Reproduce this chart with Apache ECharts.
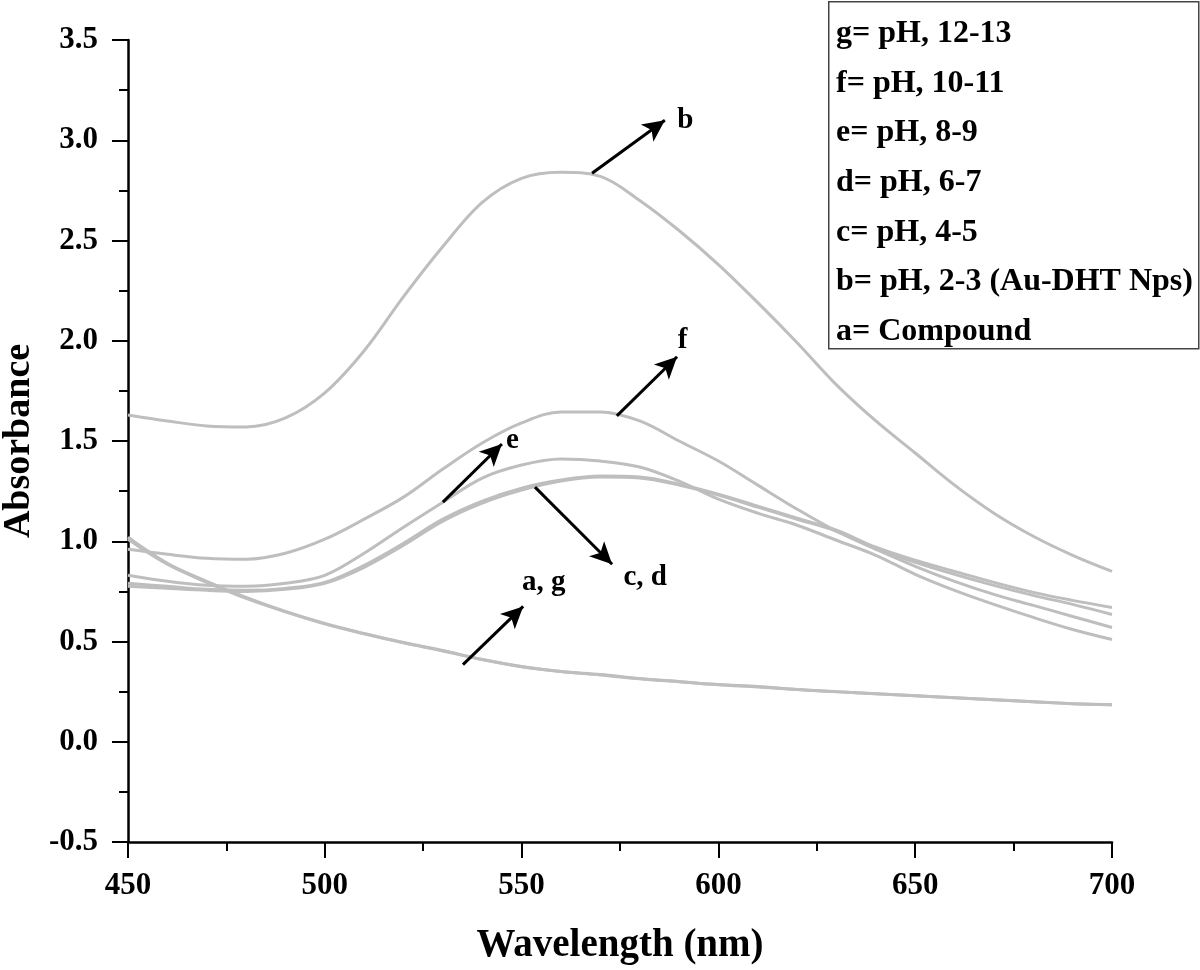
<!DOCTYPE html>
<html>
<head>
<meta charset="utf-8">
<script src="https://cdn.jsdelivr.net/npm/echarts@6/dist/echarts.min.js"></script>
<style>
html,body{margin:0;padding:0;background:#fff;}
#chart{width:1200px;height:970px;}
</style>
</head>
<body>
<div id="chart"></div>
<script>
// ---- data ----
const wavelengths = [450,460,470,480,490,500,510,520,530,540,550,560,570,580,590,600,610,620,630,640,650,660,670,680,690,700];
const curveA = [1.02,0.89,0.80,0.72,0.65,0.59,0.54,0.495,0.455,0.41,0.375,0.35,0.335,0.315,0.30,0.285,0.275,0.26,0.25,0.24,0.23,0.22,0.21,0.20,0.19,0.185];
const curveG = [1.01,0.885,0.795,0.715,0.648,0.588,0.538,0.493,0.453,0.41,0.374,0.35,0.333,0.314,0.299,0.284,0.273,0.26,0.249,0.239,0.229,0.219,0.209,0.199,0.19,0.184];
const curveB = [1.63,1.60,1.575,1.57,1.615,1.74,1.95,2.22,2.47,2.69,2.81,2.84,2.82,2.70,2.55,2.38,2.19,1.99,1.78,1.60,1.44,1.28,1.14,1.025,0.93,0.85];
const curveC = [0.79,0.775,0.76,0.755,0.765,0.795,0.88,0.99,1.11,1.20,1.265,1.305,1.325,1.32,1.285,1.235,1.175,1.115,1.055,0.97,0.905,0.85,0.795,0.745,0.705,0.67];
const curveD = [0.775,0.765,0.755,0.75,0.76,0.79,0.87,0.98,1.10,1.19,1.255,1.30,1.32,1.315,1.28,1.23,1.17,1.11,1.05,0.965,0.895,0.835,0.78,0.73,0.685,0.635];
const curveE = [0.83,0.80,0.78,0.775,0.79,0.83,0.94,1.07,1.195,1.315,1.38,1.41,1.40,1.37,1.30,1.21,1.14,1.08,1.005,0.93,0.835,0.755,0.685,0.62,0.56,0.51];
const curveF = [0.96,0.935,0.915,0.91,0.94,1.01,1.11,1.22,1.36,1.49,1.59,1.645,1.645,1.60,1.50,1.40,1.28,1.16,1.05,0.96,0.875,0.80,0.735,0.68,0.625,0.57];

const seriesNames = ['a','b','c','d','e','f','g'];
const seriesValues = [curveA,curveB,curveC,curveD,curveE,curveF,curveG];

const legendLines = ['g= pH, 12-13','f= pH, 10-11','e= pH, 8-9','d= pH, 6-7','c= pH, 4-5','b= pH, 2-3 (Au-DHT Nps)','a= Compound'];

const arrows = [
  [[567.9,2.835],[586.4,3.10]],
  [[574.2,1.625],[589.5,1.92]],
  [[530.0,1.195],[545.0,1.485]],
  [[553.4,1.27],[573.0,0.885]],
  [[535.1,0.385],[550.4,0.675]]
];
const arrowLabels = [
  {name:'b', coord:[591.6,3.10]},
  {name:'f', coord:[590.9,2.00]},
  {name:'e', coord:[547.7,1.50]},
  {name:'c, d', coord:[581.4,0.82]},
  {name:'a, g', coord:[555.6,0.795]}
];

const xTitle = 'Wavelength (nm)';
const yTitle = 'Absorbance';

// ---- chart ----
const FONT = '"Liberation Serif","Times New Roman",serif';
const chart = echarts.init(document.getElementById('chart'));

const lineSeries = seriesNames.map((n,i)=>({
  name:n, type:'line', smooth:0.35, showSymbol:false, silent:true,
  data: wavelengths.map((w,j)=>[w, seriesValues[i][j]]),
  lineStyle:{color:'#bebebe', width:3},
  z:2
}));

// annotation series (arrows + letters), drawn through the axes
lineSeries.push({
  type:'line', name:'annotations', data:[], silent:true, z:5,
  markPoint:{
    silent:true, symbol:'circle', symbolSize:1,
    itemStyle:{color:'rgba(0,0,0,0)'},
    label:{show:true, position:'inside', formatter:'{b}', color:'#000', opacity:1,
      textBorderWidth:0, fontFamily:FONT, fontWeight:'bold', fontSize:29},
    data: arrowLabels.map(d=>({name:d.name, coord:d.coord}))
  },
  markLine:{
    silent:true, symbol:['none','arrow'], symbolSize:[16,22], precision:3,
    lineStyle:{color:'#000', width:3, type:'solid', opacity:1},
    label:{show:false},
    data: arrows.map(a=>[{coord:a[0]},{coord:a[1]}])
  }
});

const graphics = [{
  type:'rect', left:828, top:1, z:10,
  shape:{width:370, height:347},
  style:{fill:'#fff', stroke:'#444', lineWidth:1.5}
}];
legendLines.forEach((t,i)=>{
  graphics.push({
    type:'text', left:836, top:32 + i*49.6 - 14, z:11,
    style:{text:t, fill:'#000', font:'bold 32px ' + FONT}
  });
});

chart.setOption({
  animation:false,
  backgroundColor:'#fff',
  grid:{left:128, right:88, top:40, bottom:128, outerBoundsMode:'none', containLabel:false},
  xAxis:{
    type:'value', min:450, max:700, interval:50,
    name:xTitle, nameLocation:'middle', nameGap:84,
    nameTextStyle:{fontFamily:FONT, fontWeight:'bold', fontSize:39, color:'#000'},
    axisLine:{show:true, onZero:false, lineStyle:{color:'#000', width:2.5}},
    axisTick:{show:true, length:16, lineStyle:{color:'#000', width:2}},
    minorTick:{show:true, splitNumber:2, length:9, lineStyle:{color:'#000', width:2}},
    splitLine:{show:false},
    axisLabel:{margin:28, color:'#000', fontFamily:FONT, fontWeight:'bold', fontSize:31}
  },
  yAxis:{
    type:'value', min:-0.5, max:3.5, interval:0.5,
    name:yTitle, nameLocation:'middle', nameGap:88, nameRotate:90,
    nameTextStyle:{fontFamily:FONT, fontWeight:'bold', fontSize:38, color:'#000'},
    axisLine:{show:true, onZero:false, lineStyle:{color:'#000', width:2.5}},
    axisTick:{show:true, length:16, lineStyle:{color:'#000', width:2}},
    minorTick:{show:true, splitNumber:2, length:9, lineStyle:{color:'#000', width:2}},
    splitLine:{show:false},
    axisLabel:{margin:30, color:'#000', fontFamily:FONT, fontWeight:'bold', fontSize:31,
      formatter:v=>v.toFixed(1)}
  },
  series:lineSeries,
  graphic:graphics
});
</script>
</body>
</html>
